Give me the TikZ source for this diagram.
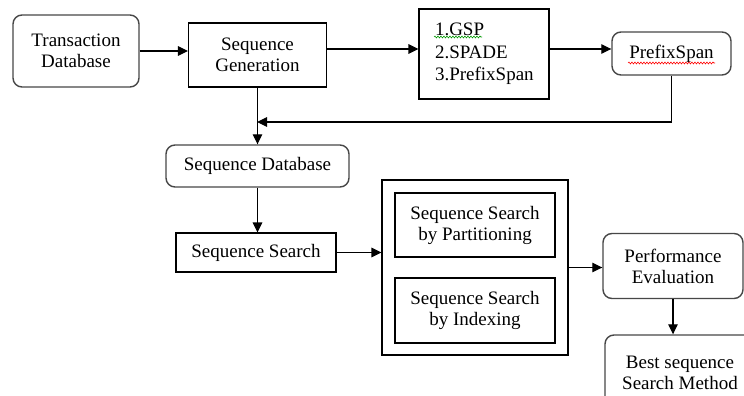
\documentclass[tikz,border=0pt]{standalone}
\usepackage{fontspec}
\setmainfont{Liberation Serif}
\usetikzlibrary{arrows.meta,positioning,decorations.pathmorphing}

\begin{document}
\begin{tikzpicture}[x=1pt,y=-1pt,
    font=\fontsize{19}{21}\selectfont,
    roundbox/.style={draw=black!72,line width=1.4pt,rounded corners=9pt,align=center,inner sep=0pt},
    plainbox/.style={draw=black,line width=1.05pt,align=center,inner sep=0pt},
    arr/.style={line width=1.1pt,-{Triangle[length=10pt,width=9.5pt]}},
    spell/.style={line width=0.6pt,decorate,decoration={snake,amplitude=0.9pt,segment length=3pt}}]
\useasboundingbox (0,0) rectangle (744,396);
\fill[white] (0,0) rectangle (744,396);
\clip (0,0) rectangle (744,396);

    \node[roundbox,minimum width=126pt,minimum height=72pt] (trans) at (76,51) {Transaction\\Database};
    \node[plainbox,minimum width=138pt,minimum height=64pt] (seqgen) at (257.5,55) {Sequence\\Generation};
    \node[plainbox,minimum width=130pt,minimum height=90pt,align=left,text width=98pt,
          font=\fontsize{19}{22.5}\selectfont] (algos) at (484,54) {1.GSP\\2.SPADE\\3.PrefixSpan};
    \node[roundbox,minimum width=119pt,minimum height=43pt] (prefix) at (671.5,53.5) {PrefixSpan};
    \coordinate (join) at (257,122);

    \node[roundbox,minimum width=183pt,minimum height=42pt] (seqdb) at (257.5,166) {Sequence Database};
    \node[plainbox,minimum width=160pt,minimum height=39pt] (search) at (256,252.5) {Sequence Search};

    \node[plainbox,minimum width=186pt,minimum height=175pt] (methods) at (475,267.5) {};
    \node[plainbox,minimum width=160pt,minimum height=64pt] (partition) at (475,225) {Sequence Search\\by Partitioning};
    \node[plainbox,minimum width=160pt,minimum height=65pt] (indexing) at (475,310.5) {Sequence Search\\by Indexing};

    \node[roundbox,minimum width=140pt,minimum height=65pt] (perf) at (673,266) {Performance\\Evaluation};
    \node[roundbox,minimum width=150pt,minimum height=76pt] (best) at (680,373) {Best sequence\\Search Method};

    \draw[arr] (trans.east) -- (trans.east -| seqgen.west);
    \draw[arr] ([yshift=6pt]seqgen.east) -- ([yshift=6pt]seqgen.east -| algos.west);
    \draw[arr] ([yshift=5pt]algos.east) -- ([yshift=5pt]algos.east -| prefix.west);
    \draw[arr] (prefix.south) |- (join);
    \draw[arr] (seqgen.south) -- (seqgen.south |- seqdb.north);
    \draw[arr] (seqdb.south) -- (seqdb.south |- search.north);
    \draw[arr] (search.east) -- (search.east -| methods.west);
    \draw[arr] (methods.east) -- (methods.east -| perf.west);
    \draw[arr] (perf.south) -- (perf.south |- best.north);

    \draw[spell,green!60!black] (434,37) -- (482,37);
    \draw[spell,red] (628,63) -- (715,63);
\end{tikzpicture}
\end{document}
